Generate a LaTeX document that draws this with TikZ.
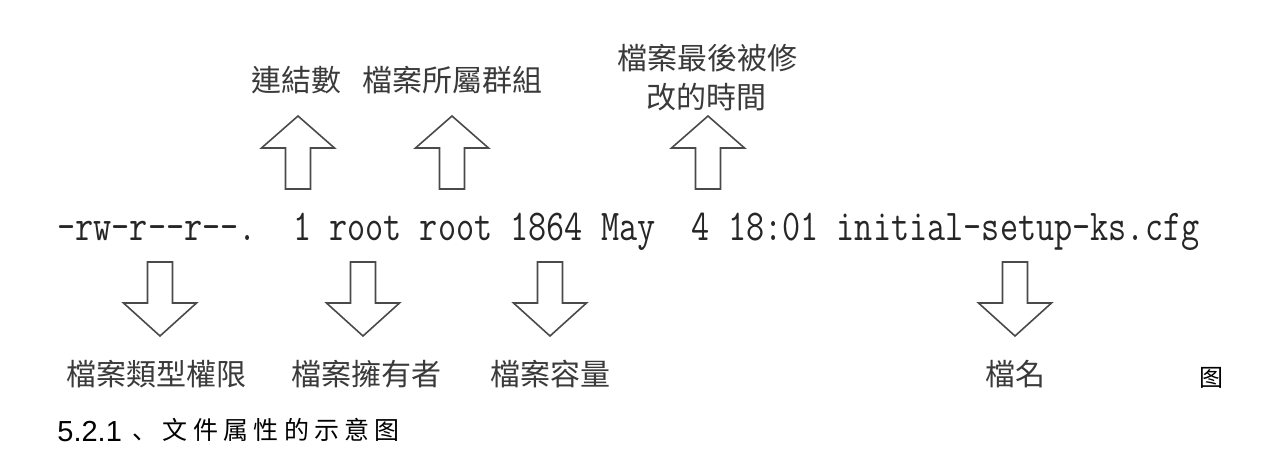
\documentclass[tikz,border=0pt]{standalone}
\usepackage{fontspec}
\usepackage{graphicx}
\setsansfont{Liberation Sans}
\newfontfamily\cjktc{Noto Sans CJK TC}
\newfontfamily\cjksc{Noto Sans CJK SC}
\definecolor{arrowgray}{HTML}{4A4A4A}
\definecolor{labelgray}{HTML}{3A3A3A}
\definecolor{codegray}{HTML}{262626}
\newcommand\hy{-\kern0pt}

\tikzset{
  blockarrow/.style={draw=arrowgray, line width=0.8pt, fill=white, line join=miter},
  uparrow/.pic={\draw[blockarrow] (0,0) -- (36.5,32) -- (12.5,32) -- (12.5,73)
      -- (-12.5,73) -- (-12.5,32) -- (-36.5,32) -- cycle;},
  downarrow/.pic={\draw[blockarrow] (0,0) -- (36.5,-33) -- (12.5,-33) -- (12.5,-74)
      -- (-12.5,-74) -- (-12.5,-33) -- (-36.5,-33) -- cycle;},
  lbl/.style={font=\cjktc\fontsize{15}{18}\selectfont, text=labelgray, inner sep=0pt},
  capchar/.style={font=\cjksc\fontsize{12.5}{15}\selectfont, inner sep=0pt, anchor=base},
}

\begin{document}
\begin{tikzpicture}[x=0.5pt, y=-0.5pt]
\useasboundingbox (0,0) rectangle (1276,466);

% the ls -l line
\node[anchor=base west, inner sep=0pt, text=codegray] (line) at (57,240)
  {\scalebox{0.8}[1]{\ttfamily\fontsize{22}{26}\selectfont
   \hy rw\hy r\hy\hy r\hy\hy.~~1~root~root~1864~May~~4~18:01~initial\hy setup\hy ks.cfg}};

% arrows pointing up to the labels above
\pic at (298,116) {uparrow};
\pic at (452,116) {uparrow};
\pic at (708,116) {uparrow};

% arrows pointing down to the labels below
\pic at (160,336) {downarrow};
\pic at (363,336) {downarrow};
\pic at (550,336) {downarrow};
\pic at (1015,336) {downarrow};

% labels above
\node[lbl] (links) at (296,80) {連結數};
\node[lbl] (group) at (452,80) {檔案所屬群組};
\node[lbl] (mtime1) at (707,58) {檔案最後被修};
\node[lbl] (mtime2) at (706,97) {改的時間};

% labels below
\node[lbl] (perm) at (157,374) {檔案類型權限};
\node[lbl] (owner) at (366,374) {檔案擁有者};
\node[lbl] (size) at (550,374) {檔案容量};
\node[lbl] (fname) at (1015,374) {檔名};

% caption
\node[inner sep=0pt, font=\cjksc\fontsize{12}{14}\selectfont] (tu) at (1211,378) {图};
\node[anchor=base west, inner sep=0pt] (cap) at (57,441)
  {\sffamily\fontsize{14.5}{17}\selectfont 5.2.1};
\foreach \ch/\cx [count=\i] in {、/145, 文/175, 件/205.5, 属/236, 性/266, 的/296.5, 示/327, 意/357, 图/387}
  \node[capchar] (cap\i) at (\cx,439) {\ch};
\end{tikzpicture}
\end{document}
